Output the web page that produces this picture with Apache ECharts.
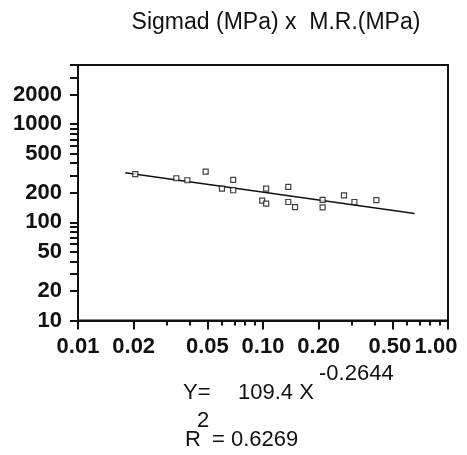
<!DOCTYPE html>
<html>
<head>
<meta charset="utf-8">
<script src="https://cdn.jsdelivr.net/npm/echarts@6/dist/echarts.min.js"></script>
<style>
html,body{margin:0;padding:0;background:#fff;}
#c{width:467px;height:455px;}
</style>
</head>
<body>
<div id="c"></div>
<script>
// Data (log-log scatter)
const sigmad = [0.0204, 0.034, 0.039, 0.049, 0.060, 0.069, 0.069, 0.104, 0.099, 0.104, 0.137, 0.137, 0.149, 0.210, 0.210, 0.274, 0.312, 0.410];
const mr = [310, 281, 268, 328, 220, 270, 212, 220, 166, 155, 230, 161, 143, 169, 142, 188, 161, 168];
const trendX = [0.018, 0.66];
const trendY = [320, 123];
const xTickLabels = [0.01, 0.02, 0.05, 0.10, 0.20, 0.50, 1.00];
const xMinorTicks = [0.03, 0.04, 0.06, 0.07, 0.08, 0.09, 0.3, 0.4, 0.6, 0.7, 0.8, 0.9];
const yTickLabels = [10, 20, 50, 100, 200, 500, 1000, 2000];
const yMinorTicks = [30, 40, 60, 70, 80, 90, 300, 400, 600, 700, 800, 900, 3000, 4000];
const titleText = 'Sigmad (MPa) x  M.R.(MPa)';
const eqCoef = '109.4 X';
const eqExp = '-0.2644';
const r2Value = '= 0.6269';

const chart = echarts.init(document.getElementById('c'), null, {renderer: 'canvas'});
const labelFont = {fontFamily: 'Liberation Sans', fontWeight: 'bold', fontSize: 22, color: '#111'};
const textFont = 'Liberation Sans';
const option = {
  animation: false,
  backgroundColor: '#fff',
  title: {
    text: titleText, left: 271, top: 6, textAlign: 'center',
    textStyle: {fontFamily: textFont, fontWeight: 'normal', fontSize: 23, color: '#111'}
  },
  grid: {left: 78, right: 19, top: 65, bottom: 134.5, show: true, borderColor: '#111', borderWidth: 2, backgroundColor: '#fff'},
  xAxis: [{
    type: 'log', logBase: 10, min: 0.01, max: 1, position: 'bottom',
    axisLine: {lineStyle: {color: '#111', width: 2}},
    axisTick: {show: true, length: 9, customValues: xTickLabels, lineStyle: {color: '#111', width: 2}},
    axisLabel: Object.assign({
      customValues: xTickLabels, margin: 15,
      formatter: v => {
        const s = Number(v).toFixed(2);
        if (Math.abs(v - 1) < 1e-9) return '{r|' + s + '}';
        if (Math.abs(v - 0.5) < 1e-9) return '{h|' + s + '}';
        return s;
      },
      rich: {
        r: {fontFamily: 'Liberation Sans', fontWeight: 'bold', fontSize: 22, color: '#111', padding: [0, 24, 0, 0]},
        h: {fontFamily: 'Liberation Sans', fontWeight: 'bold', fontSize: 22, color: '#111', padding: [0, 5, 0, 0]}
      }
    }, labelFont),
    splitLine: {show: false}, minorTick: {show: false}
  }, {
    type: 'log', logBase: 10, min: 0.01, max: 1, position: 'bottom',
    axisLine: {show: false},
    axisTick: {show: true, length: 5, customValues: xMinorTicks, lineStyle: {color: '#111', width: 2}},
    axisLabel: {show: false},
    splitLine: {show: false}
  }],
  yAxis: [{
    type: 'log', logBase: 10, min: 10, max: 4000, position: 'left',
    axisLine: {lineStyle: {color: '#111', width: 2}},
    axisTick: {show: true, length: 8, customValues: yTickLabels, lineStyle: {color: '#111', width: 2}},
    axisLabel: Object.assign({customValues: yTickLabels, margin: 16, formatter: v => String(Math.round(v))}, labelFont),
    splitLine: {show: false}
  }, {
    type: 'log', logBase: 10, min: 10, max: 4000, position: 'left',
    axisLine: {show: false},
    axisTick: {show: true, length: 8, customValues: yMinorTicks, lineStyle: {color: '#111', width: 2}},
    axisLabel: {show: false},
    splitLine: {show: false}
  }],
  series: [{
    type: 'line', xAxisIndex: 0, yAxisIndex: 0,
    data: trendX.map((x, i) => [x, trendY[i]]),
    symbol: 'none', lineStyle: {color: '#111', width: 1.6}, z: 2
  }, {
    type: 'scatter', xAxisIndex: 0, yAxisIndex: 0,
    data: sigmad.map((x, i) => [x, mr[i]]),
    symbol: 'rect', symbolSize: 5,
    itemStyle: {color: '#fff', borderColor: '#111', borderWidth: 1.2}, z: 3
  }],
  graphic: [
    {type: 'text', left: 183, top: 382, style: {text: 'Y=', font: '22px "Liberation Sans"', fill: '#111'}},
    {type: 'text', left: 238, top: 382, style: {text: eqCoef, font: '22px "Liberation Sans"', fill: '#111'}},
    {type: 'text', left: 319, top: 363, style: {text: eqExp, font: '22px "Liberation Sans"', fill: '#111'}},
    {type: 'text', left: 197, top: 410, style: {text: '2', font: '22px "Liberation Sans"', fill: '#111'}},
    {type: 'text', left: 185, top: 429, style: {text: 'R', font: '22px "Liberation Sans"', fill: '#111'}},
    {type: 'text', left: 212, top: 429, style: {text: r2Value, font: '22px "Liberation Sans"', fill: '#111'}}
  ]
};
chart.setOption(option);
</script>
</body>
</html>
